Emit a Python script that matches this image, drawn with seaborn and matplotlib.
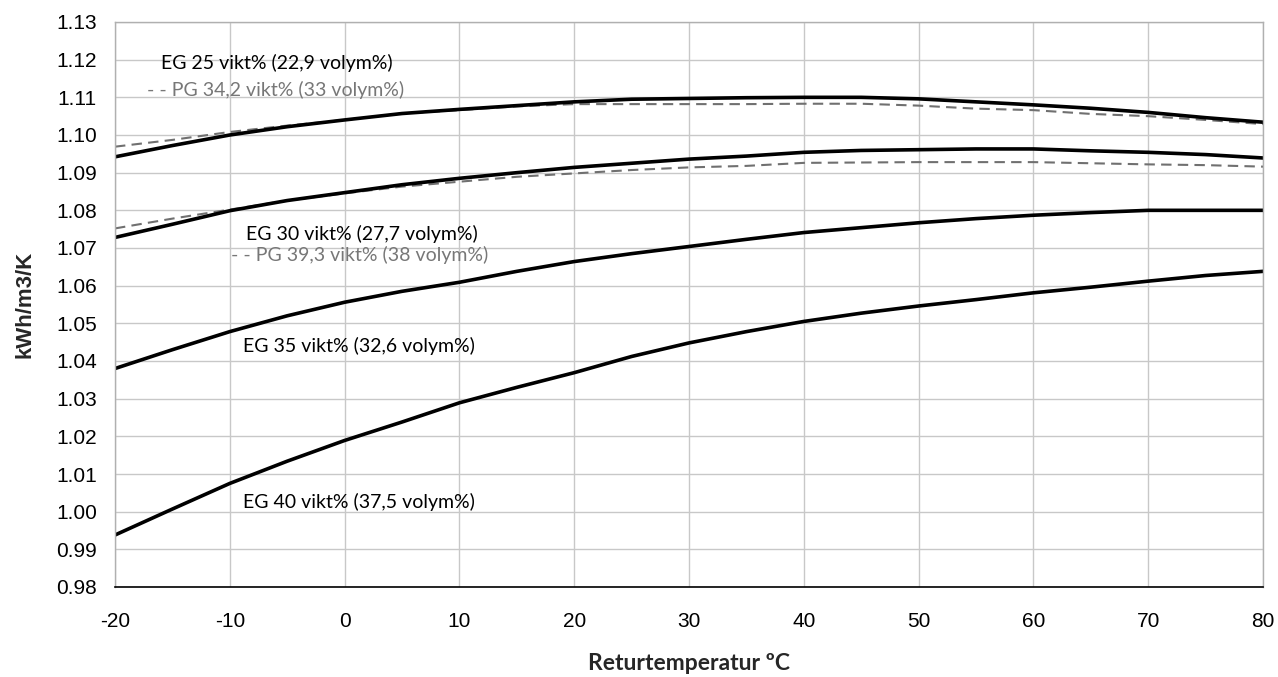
import matplotlib
matplotlib.use("Agg")
import matplotlib.pyplot as plt
import seaborn as sns

# Return temperature (deg C) and volumetric heat capacity readings (kWh/m3/K)
temps = [-20, -15, -10, -5, 0, 5, 10, 15, 20, 25, 30, 35, 40, 45, 50, 55, 60, 65, 70, 75, 80]

eg25 = [1.0942, 1.0972, 1.1000, 1.1022, 1.1040, 1.1057, 1.1068, 1.1078, 1.1088, 1.1095, 1.1097,
        1.1099, 1.1100, 1.1100, 1.1096, 1.1088, 1.1080, 1.1071, 1.1060, 1.1046, 1.1034]
pg34 = [1.0969, 1.0987, 1.1008, 1.1025, 1.1040, 1.1057, 1.1066, 1.1076, 1.1082, 1.1082, 1.1082,
        1.1082, 1.1083, 1.1083, 1.1078, 1.1070, 1.1066, 1.1056, 1.1050, 1.1040, 1.1029]
eg30 = [1.0728, 1.0763, 1.0799, 1.0826, 1.0847, 1.0868, 1.0885, 1.0900, 1.0914, 1.0925, 1.0936,
        1.0944, 1.0954, 1.0959, 1.0961, 1.0963, 1.0963, 1.0958, 1.0954, 1.0948, 1.0939]
pg39 = [1.0752, 1.0778, 1.0802, 1.0826, 1.0845, 1.0863, 1.0876, 1.0889, 1.0898, 1.0907, 1.0914,
        1.0918, 1.0926, 1.0927, 1.0928, 1.0928, 1.0928, 1.0925, 1.0922, 1.0920, 1.0916]
eg35 = [1.0380, 1.0430, 1.0478, 1.0520, 1.0556, 1.0585, 1.0609, 1.0638, 1.0664, 1.0685, 1.0704,
        1.0723, 1.0741, 1.0754, 1.0767, 1.0778, 1.0787, 1.0794, 1.0800, 1.0800, 1.0800]
eg40 = [0.9938, 1.0007, 1.0075, 1.0134, 1.0189, 1.0238, 1.0289, 1.0330, 1.0369, 1.0412, 1.0448,
        1.0478, 1.0505, 1.0527, 1.0546, 1.0563, 1.0581, 1.0596, 1.0612, 1.0627, 1.0638]

x_ticks = [-20, -10, 0, 10, 20, 30, 40, 50, 60, 70, 80]
y_ticks = [0.98, 0.99, 1.00, 1.01, 1.02, 1.03, 1.04, 1.05, 1.06, 1.07, 1.08, 1.09, 1.10, 1.11, 1.12, 1.13]

labels = [
    ("EG 25 vikt% (22,9 volym%)", -16.0, 1.1191, "black"),
    ("- - PG 34,2 vikt% (33 volym%)", -17.2, 1.1120, "#777777"),
    ("EG 30 vikt% (27,7 volym%)", -8.6, 1.0737, "black"),
    ("- - PG 39,3 vikt% (38 volym%)", -9.9, 1.0682, "#777777"),
    ("EG 35 vikt% (32,6 volym%)", -8.85, 1.0441, "black"),
    ("EG 40 vikt% (37,5 volym%)", -8.85, 1.0026, "black"),
]

sns.set_style("white")
plt.rcParams["font.family"] = ["Liberation Sans", "DejaVu Sans"]

fig = plt.figure(figsize=(12.78, 6.77), dpi=100)
ax = fig.add_axes([115 / 1278, 1 - 587 / 677, (1263 - 115) / 1278, (587 - 22) / 677])

# Dashed PG curves first, solid EG curves on top
for vals in (pg34, pg39):
    sns.lineplot(x=temps, y=vals, ax=ax, color="#707070", linewidth=1.5,
                 linestyle=(0, (5, 3)))
for vals in (eg25, eg30, eg35, eg40):
    sns.lineplot(x=temps, y=vals, ax=ax, color="black", linewidth=2.6)

ax.set_xlim(-20, 80)
ax.set_ylim(0.98, 1.13)
ax.set_xticks(x_ticks)
ax.set_xticklabels([str(t) for t in x_ticks])
ax.set_yticks(y_ticks)
ax.set_yticklabels([f"{v:.2f}" for v in y_ticks])
ax.tick_params(axis="both", labelsize=15, colors="black")
ax.tick_params(axis="x", direction="out", length=6, width=1, pad=12)
ax.tick_params(axis="y", length=0, pad=13)
ax.grid(True, color="#c8c8c8", linewidth=1)
ax.set_axisbelow(True)

for side in ("top", "right", "left"):
    ax.spines[side].set_color("#b0b0b0")
    ax.spines[side].set_linewidth(1)
ax.spines["bottom"].set_color("black")
ax.spines["bottom"].set_linewidth(1.2)

for text, tx, ty, col in labels:
    ax.text(tx, ty, text, fontsize=14, color=col, va="center", ha="left",
            family=["Lato", "DejaVu Sans"])

ax.set_xlabel("Returtemperatur ºC", fontsize=16.5, fontweight="bold",
              family=["Lato", "DejaVu Sans"])
ax.set_ylabel("kWh/m3/K", fontsize=16, fontweight="bold",
              family=["Liberation Sans", "DejaVu Sans"])
ax.xaxis.label.set_va("center")
ax.yaxis.label.set_va("center")
ax.xaxis.set_label_coords(0.5, (587 - 663) / 565)
ax.yaxis.set_label_coords((25 - 115) / 1148, 0.5)

fig.savefig("out.png", dpi=100)
